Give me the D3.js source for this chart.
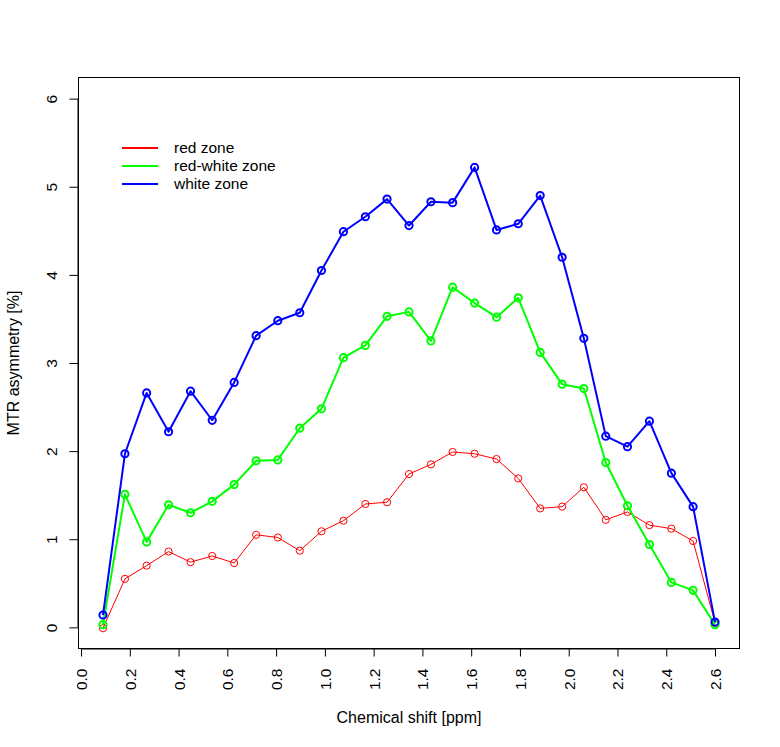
<!DOCTYPE html>
<html><head><meta charset="utf-8">
<script src="https://cdn.jsdelivr.net/npm/d3@7"></script>
<style>body{margin:0;background:#fff}svg{display:block}text{font-family:"Liberation Sans",Arial,sans-serif;fill:#000}</style>
</head><body>
<svg id="c" width="780" height="747"></svg>
<script>
const shift = [0.090,0.180,0.269,0.359,0.449,0.538,0.628,0.718,0.807,0.897,0.986,1.076,1.166,1.255,1.345,1.435,1.524,1.614,1.704,1.793,1.883,1.973,2.062,2.152,2.241,2.331,2.421,2.510,2.600];
const redZone = [-0.01,0.55,0.70,0.86,0.74,0.81,0.73,1.05,1.02,0.87,1.09,1.21,1.40,1.42,1.74,1.85,1.99,1.97,1.91,1.69,1.35,1.37,1.59,1.22,1.31,1.16,1.12,0.98,0.05];
const redWhiteZone = [0.03,1.51,0.97,1.39,1.30,1.43,1.62,1.89,1.90,2.26,2.48,3.06,3.20,3.53,3.58,3.25,3.86,3.68,3.52,3.74,3.12,2.76,2.71,1.87,1.38,0.94,0.51,0.42,0.03];
const whiteZone = [0.14,1.97,2.66,2.22,2.68,2.35,2.78,3.31,3.48,3.57,4.05,4.49,4.66,4.86,4.56,4.83,4.82,5.22,4.51,4.58,4.90,4.20,3.28,2.17,2.05,2.34,1.75,1.37,0.06];
const xTicks = [0.0,0.2,0.4,0.6,0.8,1.0,1.2,1.4,1.6,1.8,2.0,2.2,2.4,2.6];
const yTicks = [0,1,2,3,4,5,6];
const seriesNames = ["red zone","red-white zone","white zone"];
const seriesColors = ["#FF0000","#00FF00","#0000FF"];

const series = [
  {name: seriesNames[0], color: seriesColors[0], values: redZone, lw: 1},
  {name: seriesNames[1], color: seriesColors[1], values: redWhiteZone, lw: 2},
  {name: seriesNames[2], color: seriesColors[2], values: whiteZone, lw: 2}
];

const L = 78.5, R = 739.5, T = 77.5, B = 648.5;
const svg = d3.select("#c");
const x = d3.scaleLinear().domain([0.09 - 0.1004, 2.6 + 0.1004]).range([L, R]);
const y = d3.scaleLinear().domain([-0.24, 6.24]).range([B, T]);
const fs = 15.5, fsT = 16;

// box
svg.append("rect").attr("x", L).attr("y", T).attr("width", R - L).attr("height", B - T)
  .attr("fill", "none").attr("stroke", "#000").attr("stroke-width", 1);

// x axis
const xa = svg.append("g").attr("transform", `translate(0,${B})`)
  .call(d3.axisBottom(x).tickValues(xTicks).tickSize(8).tickFormat(d3.format(".1f")));
xa.select(".domain").attr("d", `M${x(0)},0.5H${x(2.6)}`).attr("stroke", "#000");
xa.selectAll(".tick line").attr("stroke", "#000");
xa.selectAll(".tick text").attr("font-size", fs).attr("font-family", "Liberation Sans, Arial, sans-serif")
  .attr("transform", "rotate(-90)").attr("text-anchor", "end").attr("x", -20).attr("y", 0).attr("dy", "0.35em");

// y axis
const ya = svg.append("g").attr("transform", `translate(${L},0)`)
  .call(d3.axisLeft(y).tickValues(yTicks).tickSize(9).tickFormat(d3.format("d")));
ya.select(".domain").attr("d", `M-0.5,${y(0)}V${y(6)}`).attr("stroke", "#000");
ya.selectAll(".tick line").attr("stroke", "#000");
ya.selectAll(".tick text").attr("font-size", fs).attr("font-family", "Liberation Sans, Arial, sans-serif")
  .attr("transform", "rotate(-90)").attr("text-anchor", "middle").attr("x", 0).attr("y", -27).attr("dy", "0.35em");

// titles
svg.append("text").attr("x", 409).attr("y", 723).attr("text-anchor", "middle")
  .attr("font-size", fsT).text("Chemical shift [ppm]");
svg.append("text").attr("transform", `translate(19,${(T + B) / 2}) rotate(-90)`).attr("text-anchor", "middle")
  .attr("font-size", fsT).text("MTR asymmetry [%]");

// lines and points
const line = d3.line().x((d, i) => x(shift[i])).y(d => y(d));
series.forEach(s => {
  const g = svg.append("g");
  g.append("path").attr("d", line(s.values)).attr("fill", "none")
    .attr("stroke", s.color).attr("stroke-width", s.lw).attr("stroke-linejoin", "round");
  g.selectAll("circle").data(s.values).join("circle")
    .attr("cx", (d, i) => x(shift[i])).attr("cy", d => y(d)).attr("r", 3.6)
    .attr("fill", "none").attr("stroke", s.color).attr("stroke-width", s.lw);
});

// legend
const lg = svg.append("g");
series.forEach((s, i) => {
  const yy = 148 + i * 18;
  lg.append("line").attr("x1", 122).attr("x2", 158).attr("y1", yy).attr("y2", yy)
    .attr("stroke", s.color).attr("stroke-width", 2);
  lg.append("text").attr("x", 174).attr("y", yy).attr("dy", "0.35em").attr("font-size", fs).text(s.name);
});
</script>
</body></html>
